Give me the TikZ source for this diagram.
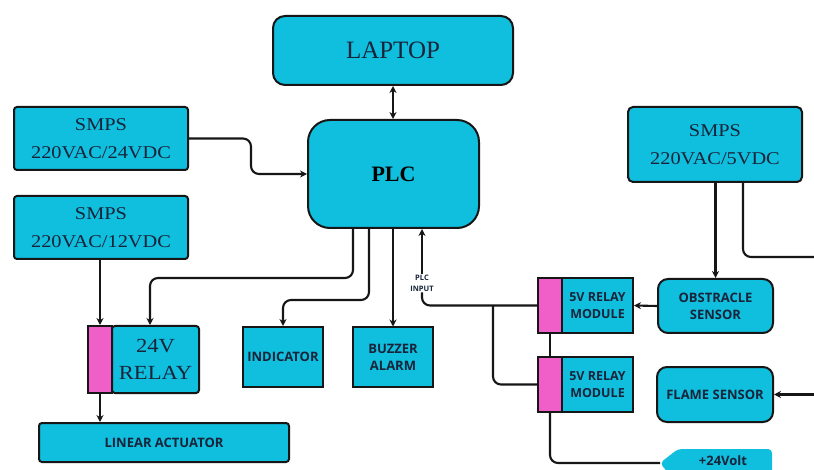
\documentclass[tikz,border=0pt]{standalone}
\usepackage{fontspec}
\setmainfont{Liberation Serif}
\newfontfamily\serifw[FakeStretch=1.13]{Liberation Serif}
\newfontfamily\sansb{Open Sans}
\usetikzlibrary{arrows.meta}
\definecolor{cy}{RGB}{16,190,222}
\definecolor{pk}{RGB}{240,95,200}
\definecolor{ln}{RGB}{22,22,22}
\definecolor{tx}{RGB}{24,36,58}
\begin{document}
\begin{tikzpicture}[x=1pt,y=-1pt,
 box/.style={draw=ln, line width=2pt, fill=cy, inner sep=0pt, align=center, text=tx},
 rbox/.style={box, rounded corners=10pt},
 sbox/.style={box, rounded corners=3pt},
 pinkbox/.style={draw=ln, line width=2pt, fill=pk, inner sep=0pt},
 smpsfont/.style={font=\serifw\fontsize{18}{28}\selectfont},
 sanslab/.style={font=\sansb\bfseries\fontsize{13}{17}\selectfont},
 wire/.style={draw=ln, line width=2.1pt, rounded corners=8pt},
 arr/.style={wire, -{Stealth[length=7pt,width=7pt]}},
 darr/.style={wire, {Stealth[length=7pt,width=7pt]}-{Stealth[length=7pt,width=7pt]}}]
\useasboundingbox (0,0) rectangle (814,470);
\fill[white] (0,0) rectangle (814,470);

% top
\node[rbox, minimum width=240pt, minimum height=69pt, rounded corners=12pt,
      font=\fontsize{25}{28}\selectfont] (laptop) at (393,50.5) {LAPTOP};
\node[rbox, minimum width=171pt, minimum height=108pt, rounded corners=22pt,
      font=\bfseries\fontsize{22}{26}\selectfont, text=black] (plc) at (393.5,174) {PLC};

% left SMPS
\node[sbox, smpsfont, minimum width=174pt, minimum height=63pt] (smps24) at (101,138.5) {SMPS\\220VAC/24VDC};
\node[sbox, smpsfont, minimum width=174pt, minimum height=63pt] (smps12) at (101,227.5) {SMPS\\220VAC/12VDC};

% 24V relay
\node[pinkbox, minimum width=24pt, minimum height=67pt] (r24p) at (100,359.5) {};
\node[sbox, minimum width=87pt, minimum height=67pt, font=\serifw\fontsize{20}{27}\selectfont] (r24b) at (155.5,359.5) {24V\\RELAY};

\node[sbox, sanslab, minimum width=250pt, minimum height=39pt] (lin) at (164,442.5) {LINEAR ACTUATOR};
\node[box, sanslab, minimum width=80pt, minimum height=60pt] (ind) at (283,357) {INDICATOR};
\node[box, sanslab, minimum width=80pt, minimum height=59pt] (buz) at (393,357) {BUZZER\\ALARM};

% 5V relay modules
\node[pinkbox, minimum width=24pt, minimum height=55pt] (r1p) at (550,305.5) {};
\node[box, sanslab, font=\sansb\bfseries\fontsize{12.5}{17}\selectfont, minimum width=71pt, minimum height=55pt] (r1b) at (597.5,305.5) {5V RELAY\\MODULE};
\node[pinkbox, minimum width=24pt, minimum height=55pt] (r2p) at (550,384.5) {};
\node[box, sanslab, font=\sansb\bfseries\fontsize{12.5}{17}\selectfont, minimum width=71pt, minimum height=55pt] (r2b) at (597.5,384.5) {5V RELAY\\MODULE};

% right side
\node[sbox, smpsfont, minimum width=174pt, minimum height=75pt, rounded corners=5pt] (smps5) at (715,144.5) {SMPS\\220VAC/5VDC};
\node[rbox, sanslab, minimum width=115pt, minimum height=54pt] (obs) at (715.5,306) {OBSTRACLE\\SENSOR};
\node[rbox, sanslab, minimum width=116pt, minimum height=55pt] (fl) at (715,394.5) {FLAME SENSOR};

% +24Volt tag
\fill[cy, rounded corners=4pt] (660,463) -- (678,449) -- (772,449) -- (772,485) -- (678,485) -- cycle;
\coordinate (v24) at (660,463);
\node[sanslab, text=tx, inner sep=0pt] (v24t) at (723,461) {+24Volt};

% PLC input label
\node[font=\sansb\bfseries\fontsize{7.5}{11}\selectfont, align=center, inner sep=1pt, text=tx] (pin) at (422,283) {PLC\\INPUT};

% free ends at right edge
\coordinate (e1) at (814,257);
\coordinate (e2) at (814,394.5);
\coordinate (br) at (493,305.5);

% connectors
\draw[darr] (laptop.south) -- (laptop.south |- plc.north);
\draw[arr] (smps24.east) -- ++(62,0) |- (plc.west);
\draw[arr] (r24p.north |- smps12.south) -- (r24p.north);
\draw[arr] (r24p.south) -- (r24p.south |- lin.north);
\draw[arr] ([xshift=-40.5pt]plc.south) -- ++(0,49) -| ([xshift=-5.5pt]r24b.north);
\draw[arr] ([xshift=-24.5pt]plc.south) -- ++(0,71) -| (ind.north);
\draw[arr] (plc.south -| buz.north) -- (buz.north);
\draw[arr] (pin.north) -- (pin.north |- plc.south);
\draw[wire] (r1p.west) -| (pin.south);
\draw[wire] (br) |- (r2p.west);
\draw[wire] (r1p.south) -- (r2p.north);
\draw[wire] (r2p.south) |- (v24);
\draw[arr] (obs.west) -- (r1b.east);
\draw[arr] (obs.north |- smps5.south) -- (obs.north);
\draw[wire] ([xshift=28pt]smps5.south) |- (e1);
\draw[arr] (e2) -- (fl.east);
\end{tikzpicture}
\end{document}
